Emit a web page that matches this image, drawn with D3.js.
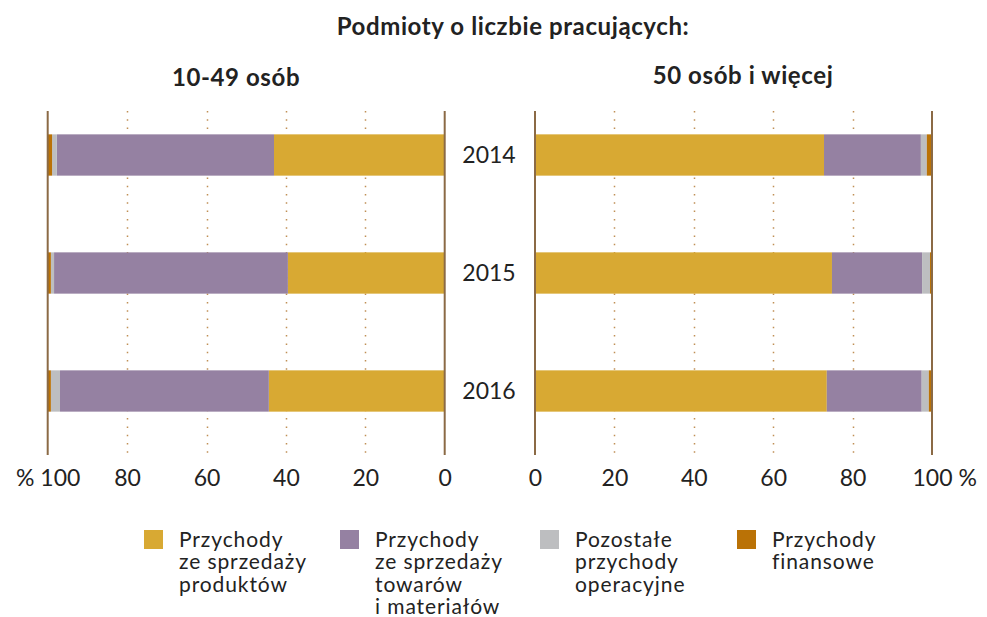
<!DOCTYPE html>
<html><head><meta charset="utf-8">
<script src="https://cdn.jsdelivr.net/npm/d3@7"></script>
<style>
body{margin:0;background:#fff;}
text{font-family:Lato, "Open Sans", sans-serif;fill:#222;}
</style></head>
<body>
<svg id="c" width="987" height="617"></svg>
<script>
const years = ["2014","2015","2016"];
const keys = ["prod","tow","poz","fin"];
const legendLabels = [
  ["Przychody","ze sprzedaży","produktów"],
  ["Przychody","ze sprzedaży","towarów","i materiałów"],
  ["Pozostałe","przychody","operacyjne"],
  ["Przychody","finansowe"]
];
const colors = ["#D8A933","#9581A2","#BDBEC0","#BA7206"];
// 10-49 osób
const small_prod = [43.0, 39.5, 44.3];
const small_tow  = [54.7, 58.9, 52.6];
const small_poz  = [1.2, 0.8, 2.3];
const small_fin  = [1.1, 0.8, 0.8];
// 50 osób i więcej
const big_prod = [72.8, 74.8, 73.5];
const big_tow  = [24.4, 22.7, 23.9];
const big_poz  = [1.5, 2.0, 1.8];
const big_fin  = [1.3, 0.5, 0.8];
const ticks = [0,20,40,60,80,100];

const svg = d3.select("#c");
const toRows = (a,b,c,d) => years.map((y,i)=>({year:y, prod:a[i], tow:b[i], poz:c[i], fin:d[i]}));
const smallRows = toRows(small_prod, small_tow, small_poz, small_fin);
const bigRows = toRows(big_prod, big_tow, big_poz, big_fin);

const xL = d3.scaleLinear().domain([0,100]).range([444.7, 47.7]);
const xR = d3.scaleLinear().domain([0,100]).range([535, 932]);
const y = d3.scaleBand().domain(years).range([96,450]).paddingInner(0.65).paddingOuter(0.325);
const color = d3.scaleOrdinal().domain(keys).range(colors);
const stack = d3.stack().keys(keys);
const plotTop = 111, plotBot = 455;

function panel(rows, x) {
  const g = svg.append("g");
  g.selectAll("line.grid").data([20,40,60,80]).join("line")
    .attr("x1", d=>Math.round(x(d))+0.5).attr("x2", d=>Math.round(x(d))+0.5)
    .attr("y1", plotTop).attr("y2", plotBot)
    .attr("stroke", "#C08F55").attr("stroke-width", 1.5)
    .attr("stroke-dasharray", "1.5 6.8");
  const series = stack(rows);
  g.selectAll("g.s").data(series).join("g")
    .attr("fill", d=>color(d.key))
    .selectAll("rect").data(d=>d).join("rect")
    .attr("x", d=>Math.min(x(d[0]), x(d[1])))
    .attr("width", d=>Math.abs(x(d[1])-x(d[0])))
    .attr("y", d=>y(d.data.year))
    .attr("height", y.bandwidth());
  g.selectAll("line.ax").data([0,100]).join("line")
    .attr("x1", d=>x(d)).attr("x2", d=>x(d))
    .attr("y1", plotTop).attr("y2", plotBot)
    .attr("stroke", "#8B6A45").attr("stroke-width", 2);
  return g;
}
panel(smallRows, xL);
panel(bigRows, xR);

function axis(x, fmt) {
  const g = svg.append("g").attr("transform", `translate(0,${plotBot})`)
    .call(d3.axisBottom(x).tickValues(ticks).tickSize(0).tickFormat(fmt));
  g.select(".domain").remove();
  g.selectAll("text").attr("y", 31).attr("dy", 0)
    .style("font-family","Lato, sans-serif").style("font-size","23px").attr("fill","#222");
  return g;
}
axis(xL, d => d===100 ? "% 100" : String(d));
const ar = axis(xR, d => d===100 ? "100 %" : String(d));
ar.selectAll("text").filter(d=>d===100).each(function(){
  const t = d3.select(this);
  const full = this.getComputedTextLength();
  t.text("100");
  const w = this.getComputedTextLength();
  t.text("100 %").attr("dx", (full - w)/2);
});

svg.selectAll("text.yr").data(years).join("text")
  .attr("x", 489).attr("y", d=>y(d)+y.bandwidth()/2)
  .attr("dy","0.36em").attr("text-anchor","middle")
  .style("font-size","23px").text(d=>d);

const titleStyle = t => t.attr("text-anchor","middle").style("font-size","24px")
  .style("font-weight","bold").style("letter-spacing","0.6px");
svg.append("text").attr("x",513).attr("y",35).call(titleStyle).text("Podmioty o liczbie pracujących:");
svg.append("text").attr("x",236).attr("y",86).call(titleStyle).text("10-49 osób");
svg.append("text").attr("x",743).attr("y",84).call(titleStyle).text("50 osób i więcej");

const legX = [144, 340, 540, 737];
const lg = svg.selectAll("g.leg").data(keys).join("g")
  .attr("transform",(d,i)=>`translate(${legX[i]},530)`);
lg.append("rect").attr("width",19).attr("height",19).attr("fill",d=>color(d));
lg.each(function(d,i){
  const t = d3.select(this).append("text").attr("x",35).attr("y",17)
    .style("font-size","21px").style("letter-spacing","0.9px");
  legendLabels[i].forEach((s,j)=>{
    t.append("tspan").attr("x",35).attr("dy", j===0?0:22.3).text(s);
  });
});
</script>
</body></html>
